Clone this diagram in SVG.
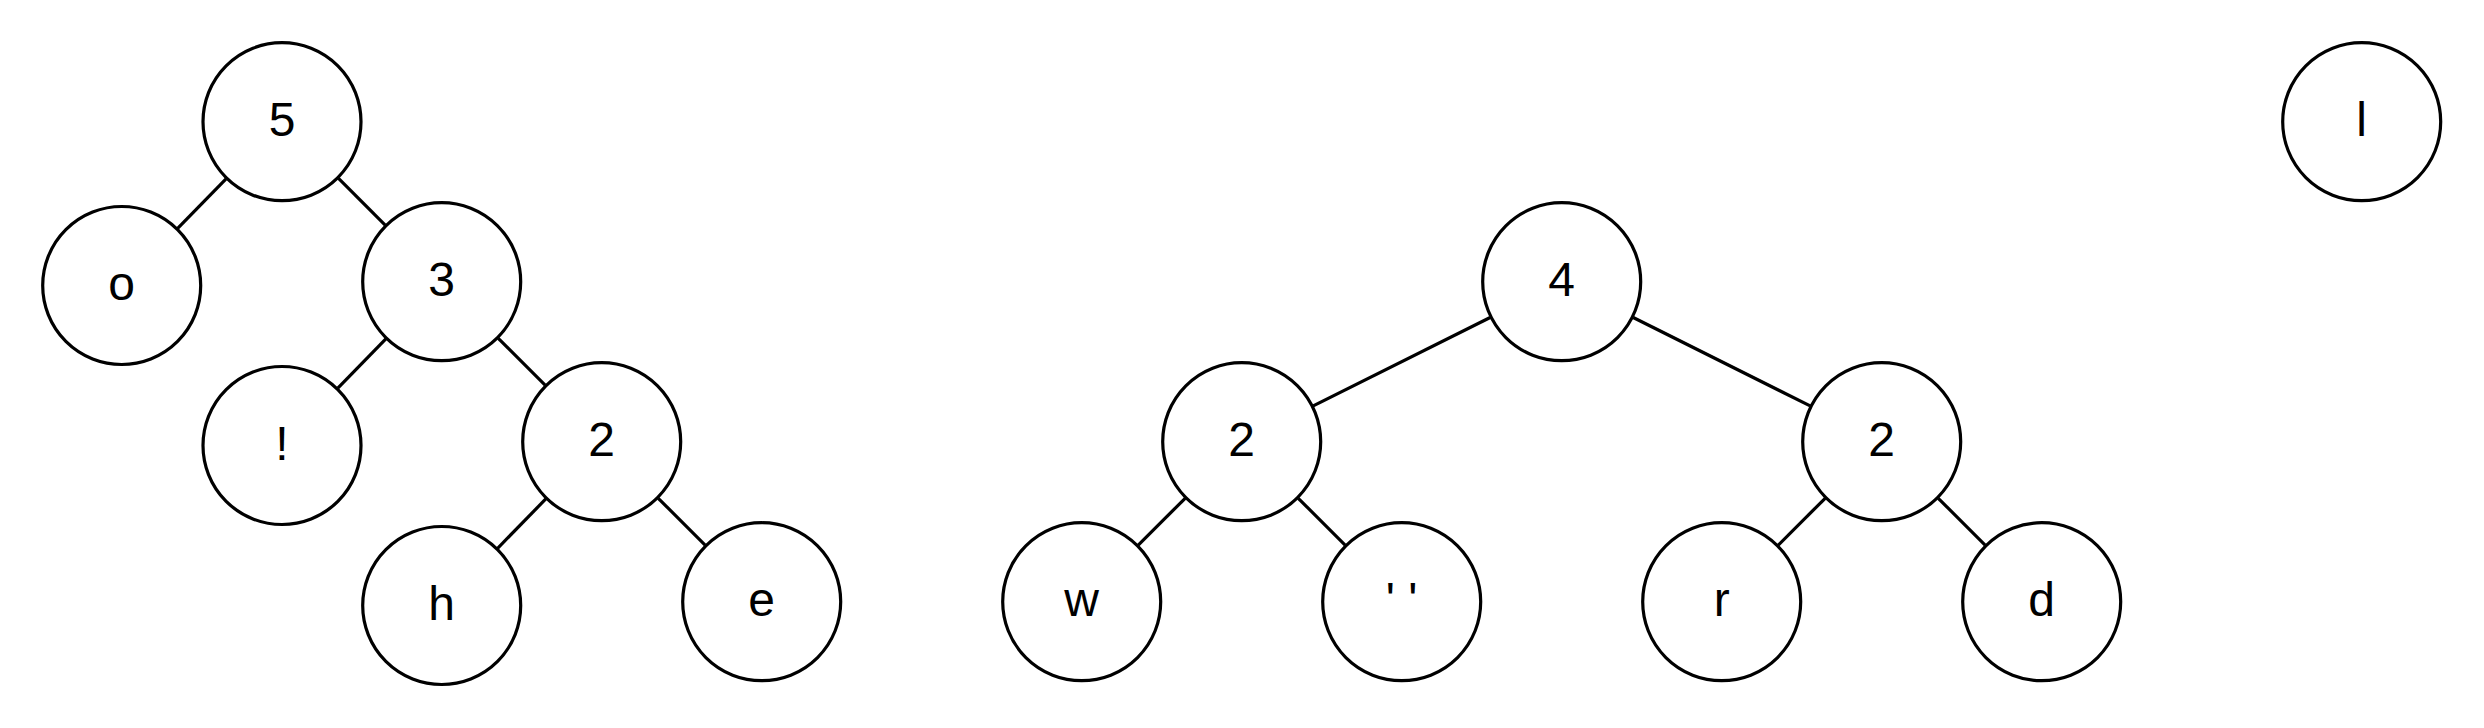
<svg xmlns="http://www.w3.org/2000/svg" width="2484" height="728" viewBox="0 0 2484 728">
<style>
.n circle{fill:#fff;stroke:#000;stroke-width:3.2}
.n text{font-family:"Liberation Sans",Arial,Helvetica,sans-serif;font-size:48px;fill:#000;text-anchor:middle}
#edges line{stroke:#000;stroke-width:3.2;fill:none}
</style>
<rect width="2484" height="728" fill="#fff"/>
<g id="edges">
<line x1="226.05" y1="178.88" x2="177.65" y2="228.32"/>
<line x1="338.5" y1="178.3" x2="385.2" y2="225.1"/>
<line x1="385.86" y1="338.97" x2="337.84" y2="388.23"/>
<line x1="498.27" y1="338.27" x2="545.13" y2="385.13"/>
<line x1="545.8" y1="498.92" x2="497.6" y2="548.28"/>
<line x1="658.27" y1="498.27" x2="705.13" y2="545.13"/>
<line x1="1490.15" y1="317.48" x2="1313.25" y2="405.92"/>
<line x1="1633.25" y1="317.48" x2="1810.15" y2="405.92"/>
<line x1="1185.13" y1="498.27" x2="1138.27" y2="545.13"/>
<line x1="1298.27" y1="498.27" x2="1345.13" y2="545.13"/>
<line x1="1825.13" y1="498.27" x2="1778.27" y2="545.13"/>
<line x1="1938.27" y1="498.27" x2="1985.13" y2="545.13"/>
</g>
<g id="n5" class="n"><circle cx="282" cy="121.7" r="79"/><text x="282" y="136.2">5</text></g>
<g id="no" class="n"><circle cx="121.7" cy="285.5" r="79"/><text x="121.7" y="300">o</text></g>
<g id="n3" class="n"><circle cx="441.7" cy="281.7" r="79"/><text x="441.7" y="296.2">3</text></g>
<g id="nexcl" class="n"><circle cx="282" cy="445.5" r="79"/><text x="282" y="460">!</text></g>
<g id="n2a" class="n"><circle cx="601.7" cy="441.7" r="79"/><text x="601.7" y="456.2">2</text></g>
<g id="nh" class="n"><circle cx="441.7" cy="605.5" r="79"/><text x="441.7" y="620">h</text></g>
<g id="ne" class="n"><circle cx="761.7" cy="601.7" r="79"/><text x="761.7" y="616.2">e</text></g>
<g id="n4" class="n"><circle cx="1561.7" cy="281.7" r="79"/><text x="1561.7" y="296.2">4</text></g>
<g id="n2l" class="n"><circle cx="1241.7" cy="441.7" r="79"/><text x="1241.7" y="456.2">2</text></g>
<g id="n2r" class="n"><circle cx="1881.7" cy="441.7" r="79"/><text x="1881.7" y="456.2">2</text></g>
<g id="nw" class="n"><circle cx="1081.7" cy="601.7" r="79"/><text x="1081.7" y="616.2">w</text></g>
<g id="nspace" class="n"><circle cx="1401.7" cy="601.7" r="79"/><text x="1401.7" y="616.2">' '</text></g>
<g id="nr" class="n"><circle cx="1721.7" cy="601.7" r="79"/><text x="1721.7" y="616.2">r</text></g>
<g id="nd" class="n"><circle cx="2041.7" cy="601.7" r="79"/><text x="2041.7" y="616.2">d</text></g>
<g id="nl" class="n"><circle cx="2361.7" cy="121.7" r="79"/><text x="2361.7" y="136.2">l</text></g>
</svg>
